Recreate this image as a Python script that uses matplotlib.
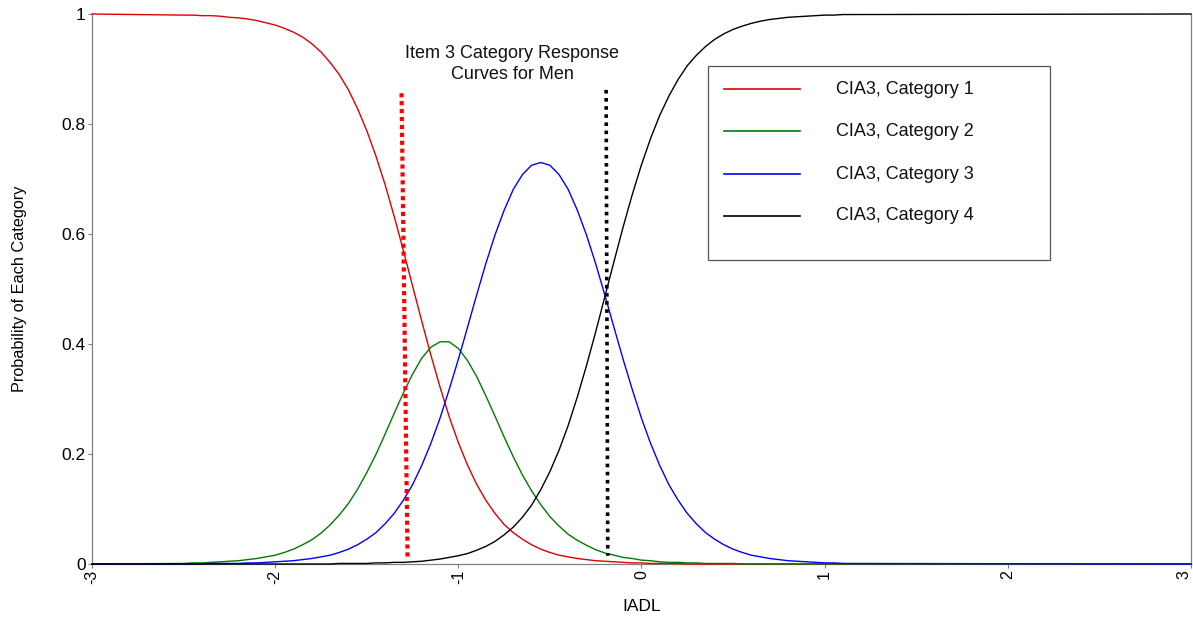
import matplotlib
matplotlib.use("Agg")
import matplotlib.pyplot as plt
from matplotlib.patches import Rectangle

plt.rcParams['font.family'] = ['Liberation Sans', 'DejaVu Sans']
plt.rcParams['axes.unicode_minus'] = False

# IADL grid (x) and category probabilities
iadl = [-3.00,
        -2.50, -2.45, -2.40, -2.35, -2.30, -2.25, -2.20, -2.15, -2.10, -2.05,
        -2.00, -1.95, -1.90, -1.85, -1.80, -1.75, -1.70, -1.65, -1.60, -1.55,
        -1.50, -1.45, -1.40, -1.35, -1.30, -1.25, -1.20, -1.15, -1.10, -1.05,
        -1.00, -0.95, -0.90, -0.85, -0.80, -0.75, -0.70, -0.65, -0.60, -0.55,
        -0.50, -0.45, -0.40, -0.35, -0.30, -0.25, -0.20, -0.15, -0.10, -0.05,
        0.00, 0.05, 0.10, 0.15, 0.20, 0.25, 0.30, 0.35, 0.40, 0.45,
        0.50, 0.55, 0.60, 0.65, 0.70, 0.75, 0.80, 0.85, 0.90, 0.95,
        1.00, 1.05, 1.10,
        3.00]

cat1 = [1.000,
        0.998, 0.998, 0.997, 0.997, 0.996, 0.994, 0.993, 0.991, 0.988, 0.984,
        0.980, 0.974, 0.967, 0.958, 0.946, 0.931, 0.912, 0.890, 0.862, 0.828,
        0.788, 0.742, 0.690, 0.632, 0.570, 0.506, 0.442, 0.380, 0.322, 0.268,
        0.221, 0.180, 0.145, 0.116, 0.092, 0.072, 0.057, 0.045, 0.035, 0.027,
        0.021, 0.016, 0.013, 0.010, 0.008, 0.006, 0.005, 0.004, 0.003, 0.002,
        0.002, 0.001, 0.001, 0.001, 0.001, 0.000, 0.000, 0.000, 0.000, 0.000,
        0.000, 0.000, 0.000, 0.000, 0.000, 0.000, 0.000, 0.000, 0.000, 0.000,
        0.000, 0.000, 0.000,
        0.000]

cat2 = [0.000,
        0.001, 0.002, 0.002, 0.003, 0.004, 0.005, 0.006, 0.008, 0.010, 0.013,
        0.016, 0.021, 0.027, 0.035, 0.044, 0.056, 0.071, 0.089, 0.110, 0.136,
        0.166, 0.199, 0.236, 0.274, 0.311, 0.345, 0.374, 0.394, 0.404, 0.404,
        0.392, 0.370, 0.341, 0.306, 0.269, 0.231, 0.195, 0.162, 0.133, 0.108,
        0.086, 0.069, 0.054, 0.043, 0.034, 0.026, 0.020, 0.016, 0.012, 0.010,
        0.007, 0.006, 0.004, 0.003, 0.003, 0.002, 0.002, 0.001, 0.001, 0.001,
        0.001, 0.000, 0.000, 0.000, 0.000, 0.000, 0.000, 0.000, 0.000, 0.000,
        0.000, 0.000, 0.000,
        0.000]

cat3 = [0.000,
        0.000, 0.000, 0.000, 0.001, 0.001, 0.001, 0.001, 0.002, 0.002, 0.003,
        0.004, 0.005, 0.006, 0.008, 0.010, 0.013, 0.016, 0.021, 0.027, 0.035,
        0.045, 0.057, 0.073, 0.092, 0.116, 0.144, 0.179, 0.219, 0.265, 0.317,
        0.372, 0.430, 0.489, 0.546, 0.598, 0.643, 0.681, 0.708, 0.725, 0.730,
        0.725, 0.708, 0.681, 0.643, 0.598, 0.546, 0.489, 0.430, 0.372, 0.317,
        0.265, 0.219, 0.179, 0.144, 0.116, 0.092, 0.073, 0.057, 0.045, 0.035,
        0.027, 0.021, 0.016, 0.013, 0.010, 0.008, 0.006, 0.005, 0.004, 0.003,
        0.002, 0.002, 0.001,
        0.000]

cat4 = [0.000,
        0.000, 0.000, 0.000, 0.000, 0.000, 0.000, 0.000, 0.000, 0.000, 0.000,
        0.000, 0.000, 0.000, 0.000, 0.000, 0.000, 0.000, 0.001, 0.001, 0.001,
        0.001, 0.002, 0.002, 0.003, 0.003, 0.004, 0.005, 0.007, 0.009, 0.012,
        0.015, 0.019, 0.025, 0.032, 0.041, 0.053, 0.067, 0.085, 0.107, 0.135,
        0.168, 0.207, 0.252, 0.304, 0.361, 0.422, 0.486, 0.550, 0.613, 0.672,
        0.726, 0.774, 0.816, 0.851, 0.881, 0.906, 0.925, 0.941, 0.954, 0.964,
        0.972, 0.978, 0.983, 0.987, 0.990, 0.992, 0.994, 0.995, 0.996, 0.997,
        0.998, 0.998, 0.999,
        1.000]

series_labels = ["CIA3, Category 1", "CIA3, Category 2",
                 "CIA3, Category 3", "CIA3, Category 4"]
series_colors = ["#e00000", "#007a00", "#0000ff", "#000000"]

# vertical dotted reference lines: (x top, x bottom), (y top, y bottom)
red_ref_x = [-1.31, -1.277]
red_ref_y = [0.856, 0.007]
black_ref_x = [-0.193, -0.184]
black_ref_y = [0.862, 0.015]

x_ticks = [-3, -2, -1, 0, 1, 2, 3]
x_tick_labels = ["-3", "-2", "-1", "0", "1", "2", "3"]
y_ticks = [0, 0.2, 0.4, 0.6, 0.8, 1]
y_tick_labels = ["0", "0.2", "0.4", "0.6", "0.8", "1"]

title_text = "Item 3 Category Response\nCurves for Men"

fig = plt.figure(figsize=(11.93, 6.17), dpi=100)
ax = fig.add_axes([0.0771, 0.0859, 0.9212, 0.8914])

for ys, col in zip([cat1, cat2, cat3, cat4], series_colors):
    ax.plot(iadl, ys, color=col, lw=1.0, solid_joinstyle='round', clip_on=False, zorder=3)

ax.plot(red_ref_x, red_ref_y, color="#ff0000", lw=3.0, linestyle=(0, (1, 0.9)),
        dash_capstyle='butt', zorder=4)
ax.plot(black_ref_x, black_ref_y, color="#000000", lw=2.6, linestyle=(0, (1, 1.25)),
        dash_capstyle='butt', zorder=4)

ax.set_xlim(-3, 3)
ax.set_ylim(0, 1)
ax.set_xticks(x_ticks)
ax.set_xticklabels(x_tick_labels, rotation=90, fontsize=11.5)
ax.get_xticklabels()[-1].set_ha('right')
ax.set_yticks(y_ticks)
ax.set_yticklabels(y_tick_labels, fontsize=12.5)
ax.tick_params(axis='both', direction='out', length=3, width=0.8, color='#808080', pad=1.5)

for s in ['left', 'bottom', 'right']:
    ax.spines[s].set_color('#808080')
    ax.spines[s].set_linewidth(0.9)
ax.spines['top'].set_visible(False)

ax.set_xlabel("IADL", fontsize=12.5)
ax.xaxis.set_label_coords(0.5, -0.078)
ax.xaxis.label.set_va('center')
ax.set_ylabel("Probability of Each Category", fontsize=11.7)
ax.yaxis.set_label_coords(-0.0655, 0.5)
ax.yaxis.label.set_va('center')

ax.text(-0.707, 0.944, title_text, ha='center', va='top', fontsize=13,
        linespacing=1.3, color='#111111', zorder=5)

# legend box
ax.add_patch(Rectangle((0.5605, 0.553), 0.3112, 0.352, transform=ax.transAxes,
                       facecolor='white', edgecolor='#555555', lw=0.9, zorder=6))
row_y = [0.8636, 0.787, 0.709, 0.633]
for yy, lab, col in zip(row_y, series_labels, series_colors):
    ax.plot([0.575, 0.644], [yy, yy], transform=ax.transAxes, color=col, lw=1.2, zorder=7)
    ax.text(0.677, yy, lab, transform=ax.transAxes, va='center', ha='left',
            fontsize=13, color='#111111', zorder=7)

fig.savefig("out.png", dpi=100)
